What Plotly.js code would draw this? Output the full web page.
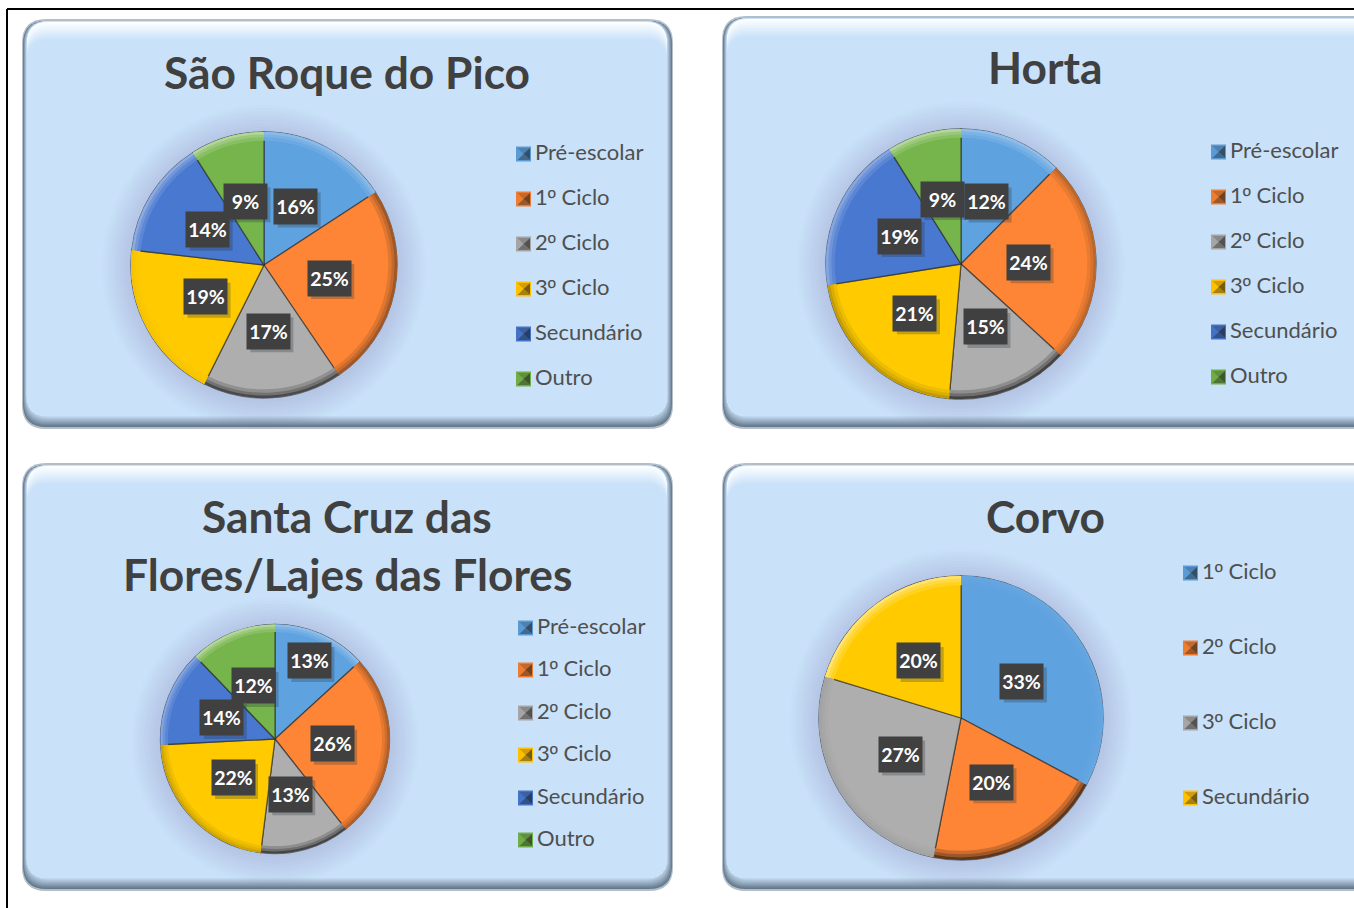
<!DOCTYPE html>
<html lang="pt">
<head>
<meta charset="utf-8">
<title>Distribuição por ciclo</title>
<script src="https://cdn.plot.ly/plotly-3.0.1.min.js"></script>
<style>html,body{margin:0;padding:0;background:#fff;overflow:hidden}#chart{width:1354px;height:908px}</style>
</head>
<body>
<div id="chart"></div>
<script>
const labelsSixCycles = ['Pré-escolar','1º Ciclo','2º Ciclo','3º Ciclo','Secundário','Outro'];
const labelsCorvo = ['1º Ciclo','2º Ciclo','3º Ciclo','Secundário'];
const valuesSaoRoque = [15.8,24.7,16.9,19.4,14.2,9];
const valuesHorta = [12.4,24.4,14.6,21.1,18.6,8.9];
const valuesSantaCruz = [13.2,26.2,12.6,22.2,13.6,12.2];
const valuesCorvo = [32.8,20.3,26.6,20.3];
const palette = ['#5B9BD5','#ED7D31','#A5A5A5','#FFC000','#4472C4','#70AD47'];
const paletteSlices = ['#5fa2e0','#fd8535','#aeaeae','#ffcb00','#4878cf','#76b54b'];

// ---- layout of the four panels ----
const W = 1354, H = 908;
const panels = [
  {title:['São Roque do Pico'], titleY:[71], titleX:347, box:[23,20,672,428], cx:264, cy:265, r:133,
   labels:labelsSixCycles, values:valuesSaoRoque, swatchX:516, legendY:[153,198,243,288,333,378]},
  {title:['Horta'], titleY:[67], titleX:1045, box:[723,17,1385,428], cx:961, cy:264, r:135,
   labels:labelsSixCycles, values:valuesHorta, swatchX:1211, legendY:[151,196,241,286,331,376]},
  {title:['Santa Cruz das','Flores/Lajes das Flores'], titleY:[515,573], titleX:347, box:[23,464,672,890], cx:275, cy:739, r:114.5,
   labels:labelsSixCycles, values:valuesSantaCruz, swatchX:518, legendY:[627,669,712,754,797,839], labelDist:{0:0.745}},
  {title:['Corvo'], titleY:[515], titleX:1045, box:[723,464,1385,890], cx:961, cy:718, r:142,
   labels:labelsCorvo, values:valuesCorvo, swatchX:1183, legendY:[572,647,722,797]}
];

const fx = x => x / W, fy = y => 1 - y / H;
const FONT = 'Lato, "Open Sans", sans-serif';
const PANEL = '#c9e2f9';

function rr(l,t,r,b,rad){
  const R = Math.min(rad,(r-l)/2,(b-t)/2);
  const p = (x,y)=>fx(x)+','+fy(y);
  return 'M'+p(l+R,t)+' L'+p(r-R,t)+' Q'+p(r,t)+' '+p(r,t+R)+' L'+p(r,b-R)+' Q'+p(r,b)+' '+p(r-R,b)+
         ' L'+p(l+R,b)+' Q'+p(l,b)+' '+p(l,b-R)+' L'+p(l,t+R)+' Q'+p(l,t)+' '+p(l+R,t)+' Z';
}
function pathShape(path,fill,layer,line){
  return {type:'path',xref:'paper',yref:'paper',path:path,fillcolor:fill,layer:layer||'below',
          line:line||{width:0}};
}
function rgb(h){return [1,3,5].map(i=>parseInt(h.substr(i,2),16));}
function mix(h,target,t){
  const a=rgb(h),b=rgb(target);
  return 'rgb('+a.map((v,i)=>Math.round(v+(b[i]-v)*t)).join(',')+')';
}
// the ordinal indicator is drawn with a face whose glyph is underlined, as in the original
function styled(s){ return s.replace('º','<span style="font-family:\'Liberation Sans\'">º</span>'); }

const shapes = [], annotations = [], traces = [];

// outer frame
shapes.push({type:'line',xref:'paper',yref:'paper',x0:fx(7),x1:1,y0:fy(9),y1:fy(9),line:{color:'#000',width:2},layer:'below'});
shapes.push({type:'line',xref:'paper',yref:'paper',x0:fx(7),x1:fx(7),y0:fy(9),y1:0,line:{color:'#000',width:2},layer:'below'});

panels.forEach(p=>{
  const [l,t,r,b] = p.box;
  // panel body: nested rounded rectangles, bottom/side shade first, then the top highlight
  shapes.push(pathShape(rr(l-1,t-1,r+1,b+1,24),'#b3bec8'));
  const shadeSteps = 9;
  for(let k=0;k<=shadeSteps;k++){
    shapes.push(pathShape(rr(l+0.4*k,t+1,r-0.55*k,b-1-1.2*k,23),mix('#66798c',PANEL,k/shadeSteps)));
  }
  const hiSteps = 12;
  for(let k=0;k<=hiSteps;k++){
    shapes.push(pathShape(rr(l+4,t+2+1.5*k,r-5,b-12,21),mix('#ffffff',PANEL,Math.min(1,k/hiSteps+0.05))));
  }
  // soft glow round the pie
  for(let k=0;k<10;k++){
    const g=p.r+2+k*3;
    shapes.push({type:'circle',xref:'paper',yref:'paper',layer:'below',
      x0:fx(p.cx-g),x1:fx(p.cx+g),y0:fy(p.cy+g+2),y1:fy(p.cy-g+2),
      fillcolor:'rgba(80,110,150,0.02)',line:{width:0}});
  }

  const colours = p.values === valuesCorvo ? paletteSlices.slice(0,4) : paletteSlices;
  const legendColours = p.values === valuesCorvo ? palette.slice(0,4) : palette;
  const domain = {x:[fx(p.cx-p.r),fx(p.cx+p.r)], y:[fy(p.cy+p.r),fy(p.cy-p.r)]};
  const common = {type:'pie',labels:p.labels,values:p.values,sort:false,direction:'clockwise',rotation:0,
                  domain:domain,textinfo:'none',hoverinfo:'label+percent',showlegend:false};
  traces.push(Object.assign({},common,{marker:{colors:colours,line:{color:'rgba(35,35,35,0.6)',width:1.3}}}));

  // slice angles drive the rim shading and the label positions
  const total = p.values.reduce((a,c)=>a+c,0);
  let cum = 0;
  const lightAmount = [];
  p.values.forEach((v,i)=>{
    const mid = (cum + v/2)/total*2*Math.PI; cum += v;
    lightAmount.push(Math.cos(mid - 335*Math.PI/180));
    const d = (p.labelDist && p.labelDist[i]!==undefined ? p.labelDist[i] : 0.5)*p.r;
    const px = p.cx + d*Math.sin(mid), py = p.cy - d*Math.cos(mid);
    shapes.push({type:'rect',xref:'paper',yref:'paper',layer:'above',
      x0:fx(px-18),x1:fx(px+25),y0:fy(py+21),y1:fy(py-14),fillcolor:'rgba(40,50,60,0.28)',line:{width:0}});
    annotations.push({xref:'paper',yref:'paper',x:fx(px),y:fy(py),xanchor:'center',yanchor:'middle',
      text:'<b>'+Math.round(v/total*100)+'%</b>',showarrow:false,width:43,height:35,bgcolor:'#404040',borderpad:0,
      font:{family:FONT,size:19.5,color:'#ffffff'}});
  });
  // graded rim: three concentric rings of the same slices, stronger towards the edge
  [[0.935,0.3],[0.96,0.6],[0.982,1]].forEach(([hole,s])=>{
    const rim = lightAmount.map((a,i)=> a>0 ? mix(colours[i],'#ffffff',0.45*a*s)
                                            : mix(colours[i],'#151515',-0.7*a*s));
    traces.push(Object.assign({},common,{hole:hole,hoverinfo:'skip',marker:{colors:rim,line:{width:0}}}));
  });

  // titles
  p.title.forEach((s,i)=>annotations.push({xref:'paper',yref:'paper',x:fx(p.titleX),y:fy(p.titleY[i]),
    xanchor:'center',yanchor:'middle',showarrow:false,text:'<b>'+s+'</b>',
    font:{family:FONT,size:44.3,color:'#404040'}}));

  // legend
  p.labels.forEach((s,i)=>{
    const x=p.swatchX, y=p.legendY[i]+1, c=legendColours[i], h=7.5;
    const pt=(a,b2)=>fx(a)+','+fy(b2);
    const L=x,R=x+15,T=y-h,B=y+h,Mx=x+7.5,My=y;
    shapes.push(pathShape('M'+pt(L,T)+' L'+pt(R,T)+' L'+pt(R,B)+' L'+pt(L,B)+' Z',c));
    shapes.push(pathShape('M'+pt(L+1.5,T+1.5)+' L'+pt(R-1,T+1.5)+' L'+pt(Mx,My)+' Z',mix(c,'#1a1a1a',0.2)));
    shapes.push(pathShape('M'+pt(R-1,T+1.5)+' L'+pt(R-1,B-1.5)+' L'+pt(Mx,My)+' Z',mix(c,'#1a1a1a',0.6)));
    shapes.push(pathShape('M'+pt(L+1.5,B-1.5)+' L'+pt(R-1,B-1.5)+' L'+pt(Mx,My)+' Z',mix(c,'#1a1a1a',0.38)));
    annotations.push({xref:'paper',yref:'paper',x:fx(x+17),y:fy(y-2.5),xanchor:'left',yanchor:'middle',
      showarrow:false,text:styled(s),font:{family:FONT,size:22,color:'#4f4f4f'}});
  });
});

const layout = {width:W,height:H,margin:{l:0,r:0,t:0,b:0,pad:0},paper_bgcolor:'#ffffff',plot_bgcolor:'rgba(0,0,0,0)',
                showlegend:false,shapes:shapes,annotations:annotations,font:{family:FONT}};
Plotly.newPlot('chart',traces,layout,{displayModeBar:false,responsive:false});
</script>
</body>
</html>
